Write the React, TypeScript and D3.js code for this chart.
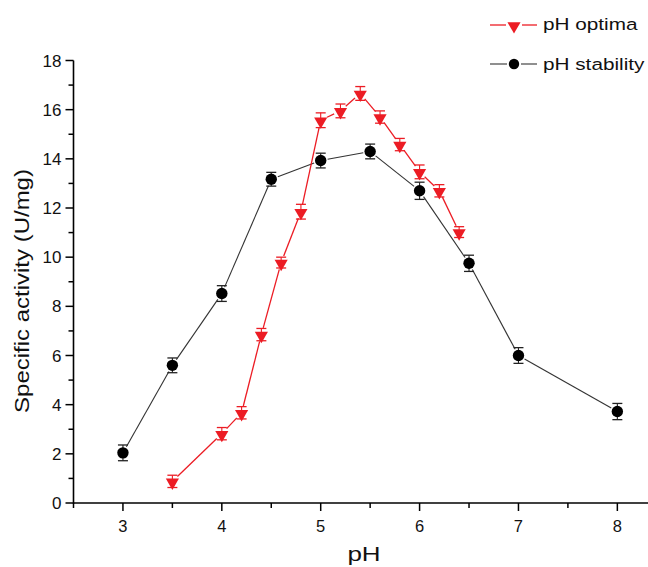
import React from "react";
import * as d3 from "d3";

const stabilityPH = [3, 3.5, 4, 4.5, 5, 5.5, 6, 6.5, 7, 8];
const stabilityVal = [2.04, 5.6, 8.52, 13.17, 13.93, 14.3, 12.7, 9.75, 6.0, 3.72];
const stabilityErr = [0.32, 0.3, 0.32, 0.28, 0.3, 0.3, 0.35, 0.33, 0.32, 0.33];

const optimaPH = [3.5, 4.0, 4.2, 4.4, 4.6, 4.8, 5.0, 5.2, 5.4, 5.6, 5.8, 6.0, 6.2, 6.4];
const optimaVal = [0.88, 2.82, 3.67, 6.85, 9.78, 11.85, 15.57, 15.95, 16.66, 15.7, 14.58, 13.47, 12.7, 11.02];
const optimaErr = [0.25, 0.25, 0.25, 0.25, 0.22, 0.3, 0.3, 0.28, 0.28, 0.25, 0.25, 0.28, 0.25, 0.22];

const xMajorTicks = [3, 4, 5, 6, 7, 8];
const xMinorTicks = [2.5, 3.5, 4.5, 5.5, 6.5, 7.5];
const yMajorTicks = [0, 2, 4, 6, 8, 10, 12, 14, 16, 18];
const yMinorTicks = [1, 3, 5, 7, 9, 11, 13, 15, 17];

const xTitle = "pH";
const yTitle = "Specific activity (U/mg)";
const legendLabels = ["pH optima", "pH stability"];

const RED = "#ec1c24";
const BLACK = "#000000";
const FONT = "'Liberation Sans', Arial, sans-serif";

function segments(xs: number[], ys: number[], sx: any, sy: any, gap: number) {
  const out: { x1: number; y1: number; x2: number; y2: number }[] = [];
  for (let i = 0; i < xs.length - 1; i++) {
    const ax = sx(xs[i]), ay = sy(ys[i]);
    const bx = sx(xs[i + 1]), by = sy(ys[i + 1]);
    const dx = bx - ax, dy = by - ay;
    const len = Math.hypot(dx, dy);
    if (len <= 2 * gap) continue;
    const ux = dx / len, uy = dy / len;
    out.push({ x1: ax + ux * gap, y1: ay + uy * gap, x2: bx - ux * gap, y2: by - uy * gap });
  }
  return out;
}

export default function App() {
  const W = 648, H = 567;
  const x = d3.scaleLinear().domain([2.5, 8.31]).range([73.5, 648]);
  const y = d3.scaleLinear().domain([0, 18]).range([503, 60.5]);
  const tri = d3.symbol().type(d3.symbolTriangle).size(75)();
  const capW = 5;

  const stabSegs = segments(stabilityPH, stabilityVal, x, y, 7);
  const optSegs = segments(optimaPH, optimaVal, x, y, 7);

  return (
    <svg width={W} height={H} style={{ position: "absolute", left: 0, top: 0, background: "#fff" }}
      fontFamily={FONT}>
      <rect width={W} height={H} fill="#fff" />
      {/* axes */}
      <line x1={x(2.5)} x2={648} y1={y(0)} y2={y(0)} stroke="#000" strokeWidth={1.6} />
      <line x1={x(2.5)} x2={x(2.5)} y1={y(0) + 0.8} y2={y(18)} stroke="#000" strokeWidth={1.6} />
      {xMajorTicks.map((t) => (
        <g key={"xt" + t}>
          <line x1={x(t)} x2={x(t)} y1={y(0)} y2={y(0) + 8} stroke="#000" strokeWidth={1.5} />
          <text x={x(t)} y={y(0) + 29} fontSize={16.5} textAnchor="middle" fill="#111">{t}</text>
        </g>
      ))}
      {xMinorTicks.map((t) => (
        <line key={"xm" + t} x1={x(t)} x2={x(t)} y1={y(0)} y2={y(0) + 5} stroke="#000" strokeWidth={1.5} />
      ))}
      {yMajorTicks.map((t) => (
        <g key={"yt" + t}>
          <line x1={x(2.5) - 8} x2={x(2.5)} y1={y(t)} y2={y(t)} stroke="#000" strokeWidth={1.5} />
          <text x={x(2.5) - 12} y={y(t) + 6} fontSize={17} textAnchor="end" fill="#111">{t}</text>
        </g>
      ))}
      {yMinorTicks.map((t) => (
        <line key={"ym" + t} x1={x(2.5) - 5} x2={x(2.5)} y1={y(t)} y2={y(t)} stroke="#000" strokeWidth={1.5} />
      ))}
      <text transform={`translate(364,561) scale(1.3,1)`} fontSize={20} textAnchor="middle" fill="#111">{xTitle}</text>
      <text transform={`translate(29,291) rotate(-90) scale(1.2,1)`} fontSize={20} textAnchor="middle" fill="#111">{yTitle}</text>

      {/* stability line */}
      {stabSegs.map((s, i) => (
        <line key={"ss" + i} {...s} stroke="#333" strokeWidth={1.1} />
      ))}
      {/* optima line */}
      {optSegs.map((s, i) => (
        <line key={"os" + i} {...s} stroke={RED} strokeWidth={1.3} />
      ))}

      {/* stability error bars + markers */}
      {stabilityPH.map((p, i) => {
        const cx = x(p), hi = y(stabilityVal[i] + stabilityErr[i]), lo = y(stabilityVal[i] - stabilityErr[i]);
        return (
          <g key={"sp" + i}>
            <line x1={cx} x2={cx} y1={hi} y2={lo} stroke="#222" strokeWidth={1.1} />
            <line x1={cx - capW} x2={cx + capW} y1={hi} y2={hi} stroke="#222" strokeWidth={1.3} />
            <line x1={cx - capW} x2={cx + capW} y1={lo} y2={lo} stroke="#222" strokeWidth={1.3} />
            <circle cx={cx} cy={y(stabilityVal[i])} r={5.7} fill={BLACK} />
          </g>
        );
      })}
      {/* optima error bars + markers */}
      {optimaPH.map((p, i) => {
        const cx = x(p), hi = y(optimaVal[i] + optimaErr[i]), lo = y(optimaVal[i] - optimaErr[i]);
        return (
          <g key={"op" + i}>
            <line x1={cx} x2={cx} y1={hi} y2={lo} stroke={RED} strokeWidth={1.1} />
            <line x1={cx - capW} x2={cx + capW} y1={hi} y2={hi} stroke={RED} strokeWidth={1.3} />
            <line x1={cx - capW} x2={cx + capW} y1={lo} y2={lo} stroke={RED} strokeWidth={1.3} />
            <path d={tri} transform={`translate(${cx},${y(optimaVal[i]) + 1}) rotate(180)`} fill={RED} />
          </g>
        );
      })}

      {/* legend */}
      <g>
        <line x1={490} x2={506} y1={25} y2={25} stroke={RED} strokeWidth={1.3} />
        <line x1={522} x2={537} y1={25} y2={25} stroke={RED} strokeWidth={1.3} />
        <path d={tri} transform={`translate(514,26) rotate(180)`} fill={RED} />
        <text transform={`translate(543,30) scale(1.22,1)`} fontSize={17} fill="#111">{legendLabels[0]}</text>
        <line x1={490} x2={507} y1={64} y2={64} stroke="#333" strokeWidth={1.1} />
        <line x1={521} x2={537} y1={64} y2={64} stroke="#333" strokeWidth={1.1} />
        <circle cx={514} cy={64} r={5.2} fill={BLACK} />
        <text transform={`translate(543,70) scale(1.22,1)`} fontSize={17} fill="#111">{legendLabels[1]}</text>
      </g>
    </svg>
  );
}
